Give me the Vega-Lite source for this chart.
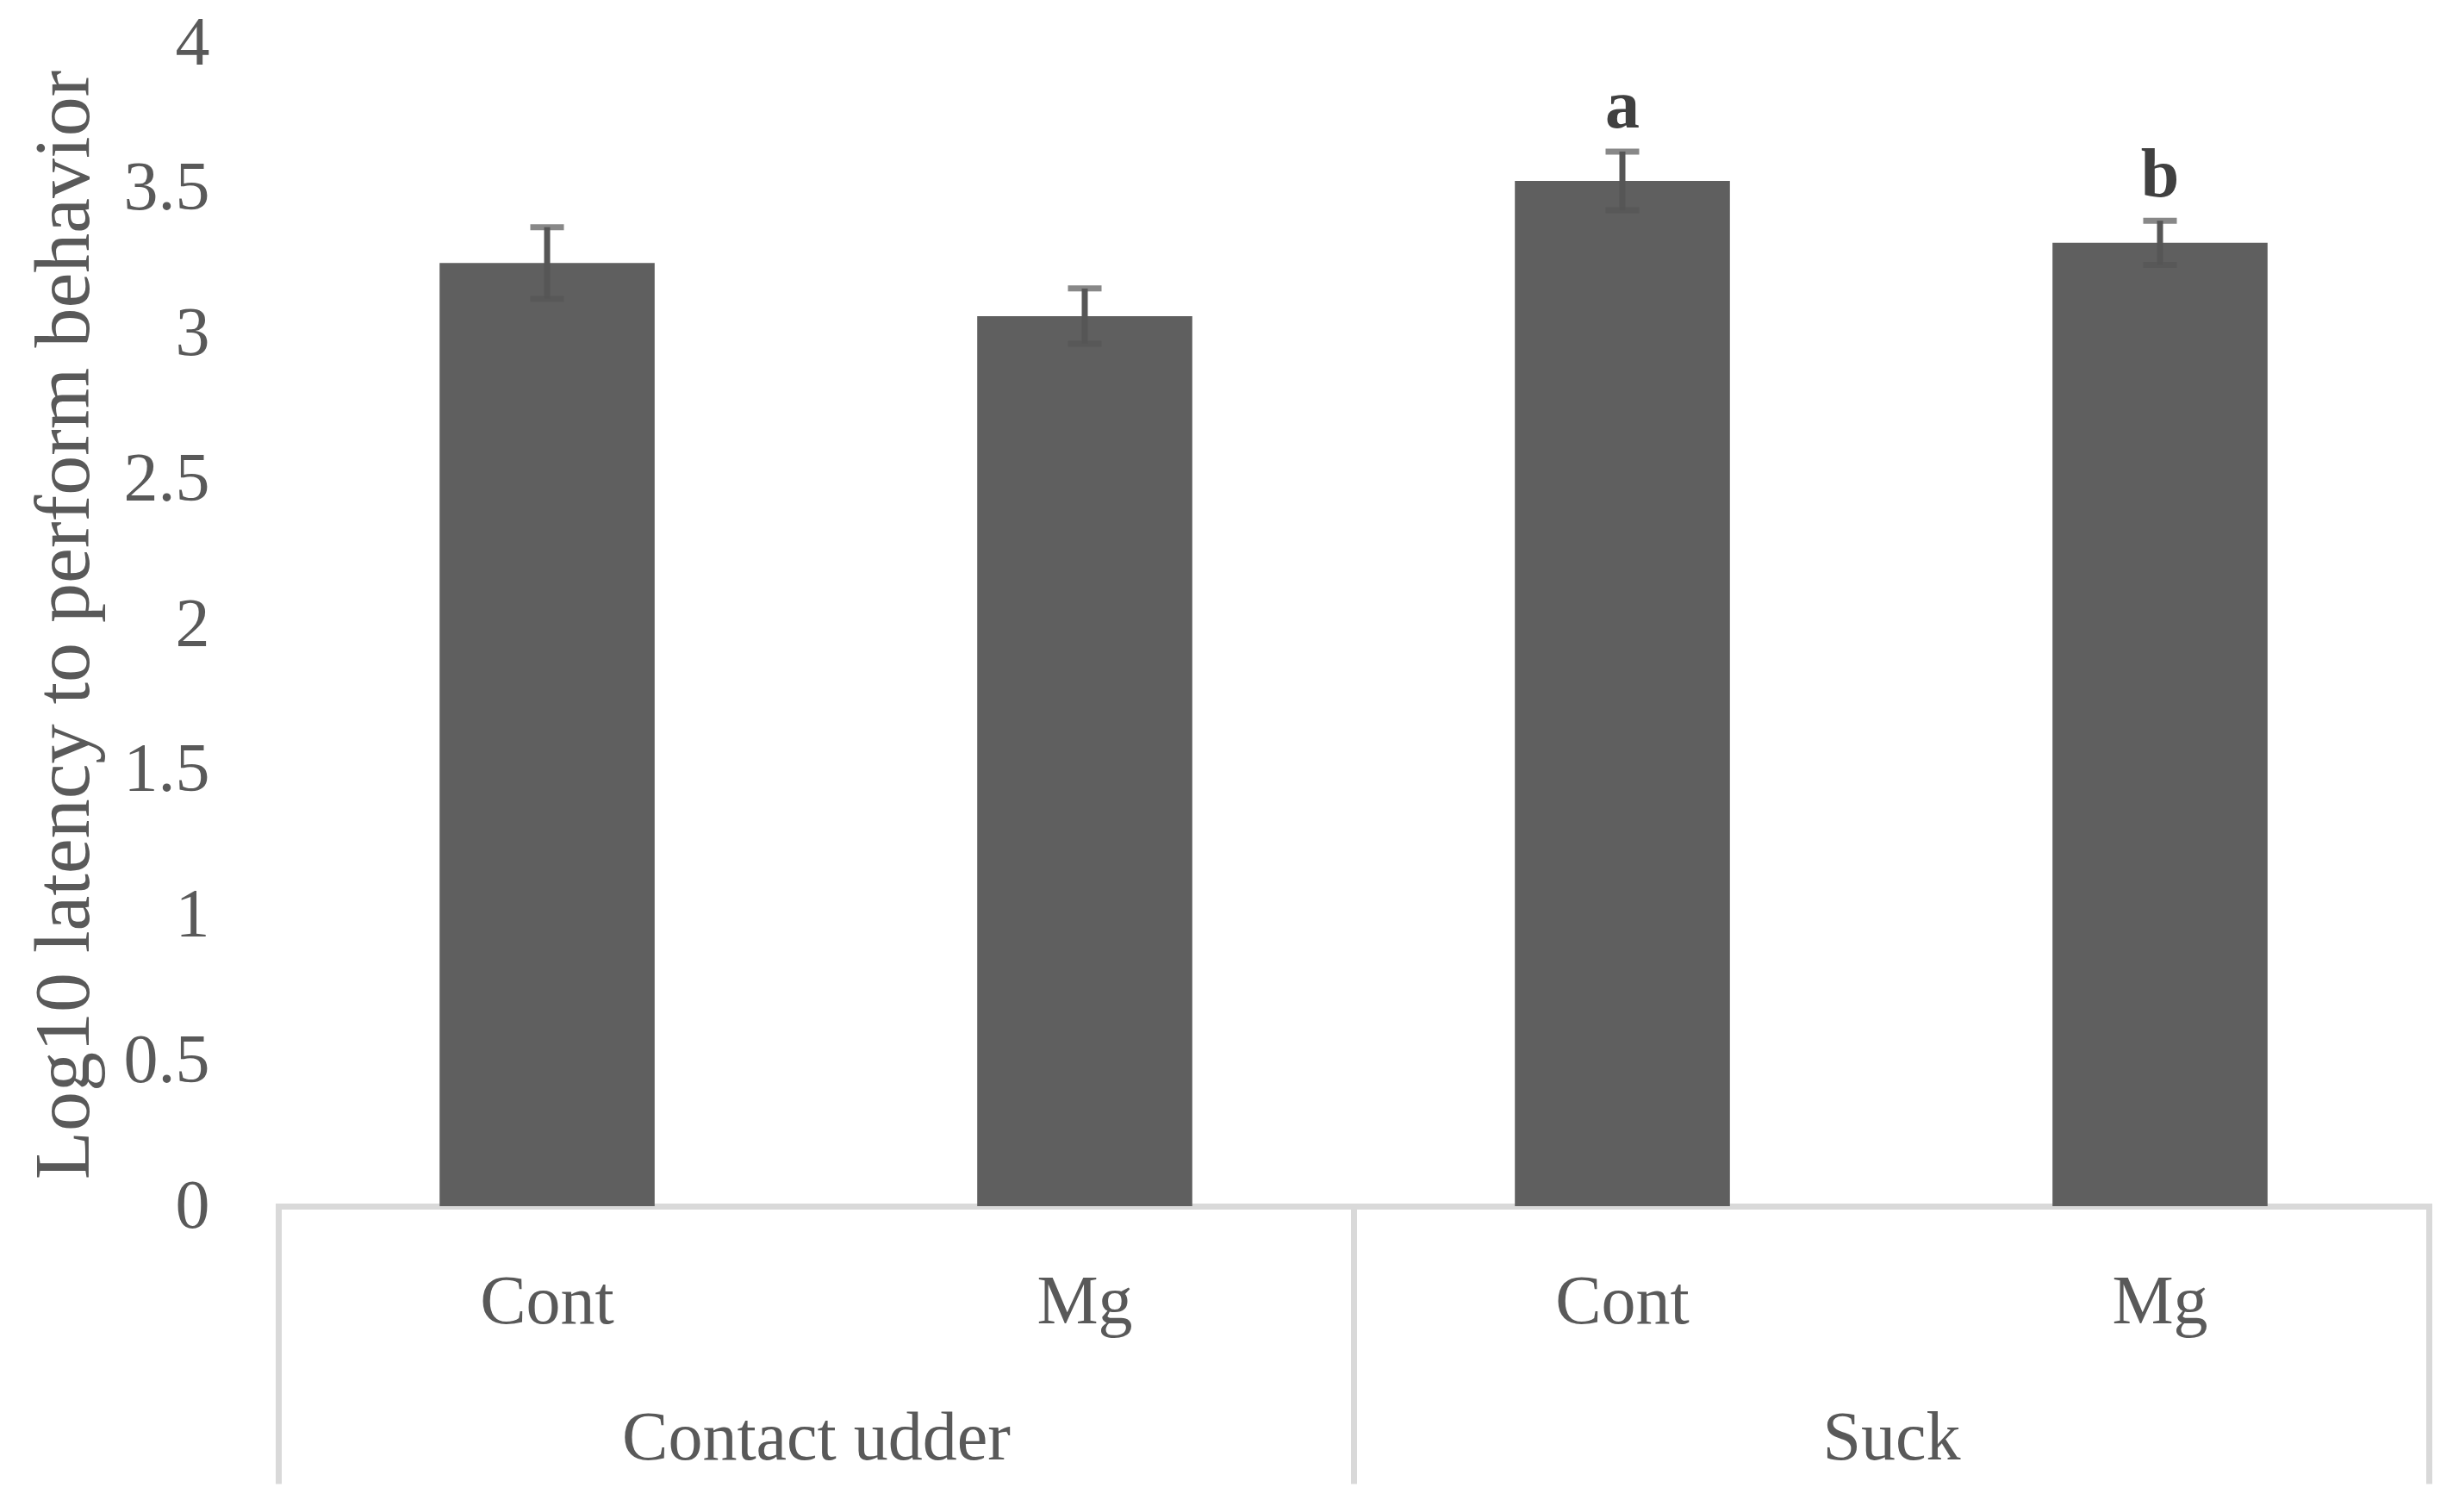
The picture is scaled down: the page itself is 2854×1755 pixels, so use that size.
{
  "$schema": "https://vega.github.io/schema/vega-lite/v6.json",
  "width": 2496,
  "height": 1350,
  "autosize": {"type": "none"},
  "padding": {"left": 323, "top": 50, "right": 35, "bottom": 355},
  "background": "white",
  "config": {"view": {"stroke": null}, "font": "Liberation Serif"},
  "datasets": {
    "bars": [
      {"key": "Contact udder|Cont", "group": "Contact udder", "treatment": "Cont", "mean": 3.244, "lo": 3.121, "hi": 3.367, "sig": ""},
      {"key": "Contact udder|Mg", "group": "Contact udder", "treatment": "Mg", "mean": 3.061, "lo": 2.966, "hi": 3.156, "sig": ""},
      {"key": "Suck|Cont", "group": "Suck", "treatment": "Cont", "mean": 3.526, "lo": 3.425, "hi": 3.627, "sig": "a"},
      {"key": "Suck|Mg", "group": "Suck", "treatment": "Mg", "mean": 3.313, "lo": 3.237, "hi": 3.389, "sig": "b"}
    ],
    "groups": [{"group": "Contact udder"}, {"group": "Suck"}]
  },
  "layer": [
    {
      "data": {"name": "groups"},
      "mark": {"type": "text", "text": ""},
      "encoding": {
        "x": {
          "field": "group", "type": "nominal", "sort": null,
          "scale": {"paddingInner": 0, "paddingOuter": 0},
          "axis": {
            "orient": "bottom", "title": null,
            "domain": true, "domainColor": "#d9d9d9", "domainWidth": 7, "domainCap": "square",
            "ticks": true, "tickBand": "extent", "tickSize": 322, "tickWidth": 7, "tickColor": "#d9d9d9",
            "labelFontSize": 80, "labelColor": "#595959", "labelPadding": -92, "labelAngle": 0,
            "labelLimit": 0, "labelFont": "Liberation Serif"
          }
        }
      }
    },
    {
      "data": {"name": "bars"},
      "encoding": {
        "x": {
          "field": "key", "type": "nominal", "sort": null,
          "scale": {"paddingInner": 0.6, "paddingOuter": 0.3},
          "axis": {
            "orient": "bottom", "title": null, "domain": false, "ticks": false,
            "labelExpr": "split(datum.label, '|')[1]",
            "labelAngle": 0, "labelFontSize": 80, "labelColor": "#595959", "labelPadding": 72,
            "labelLimit": 0, "labelFont": "Liberation Serif"
          }
        }
      },
      "layer": [
        {
          "mark": {"type": "bar", "color": "#5f5f5f"},
          "encoding": {
            "y": {
              "field": "mean", "type": "quantitative",
              "scale": {"domain": [0, 4], "nice": false},
              "axis": {
                "values": [0, 0.5, 1, 1.5, 2, 2.5, 3, 3.5, 4],
                "format": "~g",
                "domain": false, "ticks": false, "grid": false,
                "labelFontSize": 80, "labelColor": "#595959", "labelPadding": 80,
                "labelFont": "Liberation Serif",
                "title": "Log10 latency to perform behavior",
                "titleFontSize": 92, "titleFontWeight": "normal", "titleColor": "#595959",
                "titlePadding": 22, "titleFont": "Liberation Serif", "titleLimit": 0
              }
            }
          }
        },
        {
          "mark": {"type": "rule", "color": "#565656", "strokeWidth": 7},
          "encoding": {
            "y": {"field": "lo", "type": "quantitative"},
            "y2": {"field": "hi"}
          }
        },
        {
          "mark": {"type": "tick", "color": "#565656", "size": 39, "thickness": 7, "orient": "horizontal"},
          "encoding": {"y": {"field": "lo", "type": "quantitative"}}
        },
        {
          "mark": {"type": "tick", "color": "#565656", "size": 39, "thickness": 7, "orient": "horizontal"},
          "encoding": {"y": {"field": "hi", "type": "quantitative"}}
        },
        {
          "mark": {"type": "text", "font": "Liberation Serif", "fontSize": 80, "fontWeight": "bold", "color": "#404040", "baseline": "alphabetic", "dy": -28},
          "encoding": {
            "y": {"field": "hi", "type": "quantitative"},
            "text": {"field": "sig"}
          }
        }
      ]
    }
  ],
  "resolve": {"scale": {"x": "independent"}}
}
